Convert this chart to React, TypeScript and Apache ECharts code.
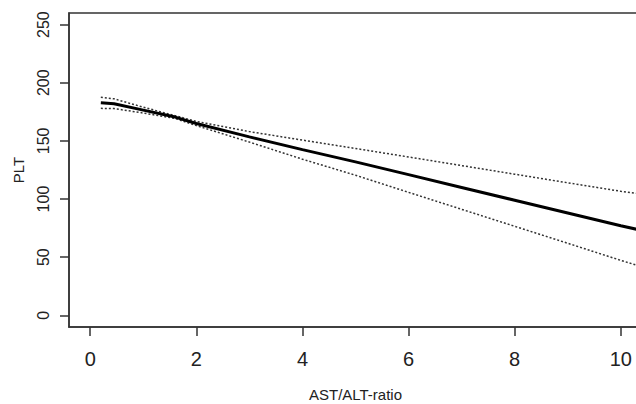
import React, { useEffect, useRef } from "react";
import * as echarts from "echarts";

const xValues = [0.2, 0.45, 1, 1.6, 2, 3, 4, 5, 6, 7, 8, 9, 10, 10.4];
const fitValues = [182.8, 182, 176.5, 170.5, 165, 153.5, 142.5, 132, 121, 110, 99, 88, 77, 73];
const upperValues = [187.6, 186.2, 179, 171.7, 166.8, 158, 150.7, 143.5, 136.2, 128.8, 121.4, 114, 106.7, 104.3];
const lowerValues = [178, 177.8, 174, 169.3, 163.2, 149, 134.3, 120.5, 105.8, 91.2, 76.6, 62, 47.3, 41.7];
const xTicks = [0, 2, 4, 6, 8, 10];
const yTicks = [0, 50, 100, 150, 200, 250];

const pairs = (ys: number[]) => xValues.map((x, i) => [x, ys[i]]);

export default function App() {
  const ref = useRef<HTMLDivElement>(null);
  useEffect(() => {
    if (!ref.current) return;
    const chart = echarts.init(ref.current, null, { renderer: "svg" });
    const axisColor = "#333";
    chart.setOption({
      animation: false,
      backgroundColor: "#fff",
      grid: {
        show: true,
        left: 69,
        top: 13,
        right: -6,
        bottom: 77,
        containLabel: false,
        outerBoundsMode: "none",
        borderColor: axisColor,
        borderWidth: 1.5,
        backgroundColor: "transparent",
      },
      xAxis: {
        type: "value",
        min: -0.4,
        max: 10.4,
        name: "AST/ALT-ratio",
        nameLocation: "middle",
        nameGap: 60,
        nameTextStyle: { fontFamily: "Liberation Sans", fontSize: 15, color: "#222" },
        axisLine: { show: true, onZero: false, lineStyle: { color: axisColor, width: 1.5 } },
        axisTick: { show: true, inside: false, length: 9, customValues: xTicks, lineStyle: { color: axisColor, width: 1.5 } },
        axisLabel: {
          customValues: xTicks,
          margin: 22,
          fontFamily: "Liberation Sans",
          fontSize: 20,
          color: "#222",
        },
        splitLine: { show: false },
      },
      yAxis: {
        type: "value",
        min: -10,
        max: 260,
        name: "PLT",
        nameLocation: "middle",
        nameGap: 43,
        nameTextStyle: { fontFamily: "Liberation Sans", fontSize: 15, color: "#222" },
        axisLine: { show: true, onZero: false, lineStyle: { color: axisColor, width: 1.5 } },
        axisTick: { show: true, inside: false, length: 9, customValues: yTicks, lineStyle: { color: axisColor, width: 1.5 } },
        axisLabel: {
          customValues: yTicks,
          rotate: 90,
          margin: 18,
          fontFamily: "Liberation Sans",
          fontSize: 16,
          color: "#222",
        },
        splitLine: { show: false },
      },
      series: [
        {
          type: "line",
          data: pairs(upperValues),
          showSymbol: false,
          lineStyle: { color: "#333", width: 1.5, type: [2, 2] },
        },
        {
          type: "line",
          data: pairs(lowerValues),
          showSymbol: false,
          lineStyle: { color: "#333", width: 1.5, type: [2, 2] },
        },
        {
          type: "line",
          data: pairs(fitValues),
          showSymbol: false,
          lineStyle: { color: "#000", width: 3 },
        },
      ],
    });
    return () => chart.dispose();
  }, []);
  return (
    <div
      ref={ref}
      style={{ position: "fixed", left: 0, top: 0, width: 636, height: 404, background: "#fff" }}
    />
  );
}
